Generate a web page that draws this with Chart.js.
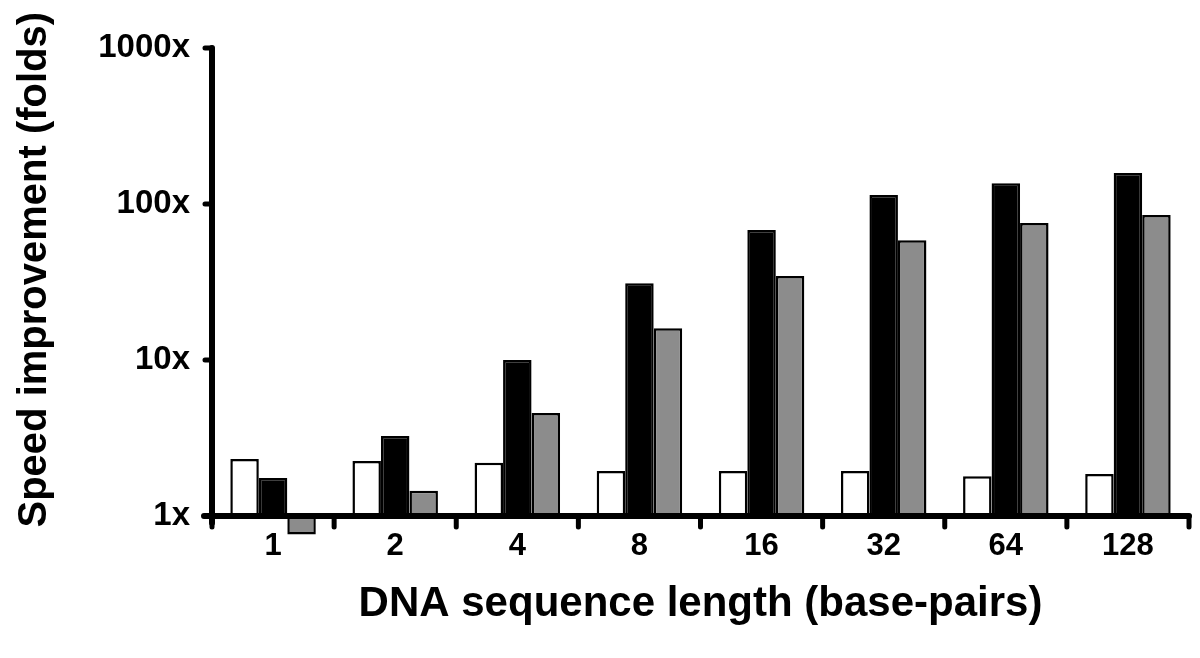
<!DOCTYPE html>
<html>
<head>
<meta charset="utf-8">
<script src="https://cdn.jsdelivr.net/npm/chart.js@4"></script>
<style>
  html, body { margin: 0; padding: 0; background: #fff; }
  canvas { display: block; }
</style>
</head>
<body>
<canvas id="chart" width="1200" height="658"></canvas>
<script>
const lengths = ['1', '2', '4', '8', '16', '32', '64', '128'];
const whiteSeries = [2.32, 2.25, 2.19, 1.94, 1.94, 1.94, 1.80, 1.86];
const blackSeries = [1.75, 3.26, 10.0, 31, 68, 114, 136, 158];
const graySeries = [0.76, 1.45, 4.57, 16, 34.5, 58.6, 75.5, 85];
const yTicks = [1, 10, 100, 1000];

const FONT = "'Liberation Sans', Arial, sans-serif";

// bars start at 1x, so the one below 1 hangs under the axis
function fromOne(arr) {
    return arr.map(v => [1, v]);
}

// axis lines with rounded tick marks, like the original figure
const axisPlugin = {
    id: 'axisPlugin',
    afterDatasetsDraw(chart) {
        const ctx = chart.ctx;
        const x = chart.scales.x;
        const y = chart.scales.y;
        const area = chart.chartArea;
        const base = y.getPixelForValue(1);
        const step = x.getPixelForValue(1) - x.getPixelForValue(0);
        ctx.save();
        ctx.strokeStyle = '#000';
        ctx.lineCap = 'round';

        ctx.lineWidth = 6;
        ctx.beginPath();
        ctx.moveTo(area.left - 8, base);
        ctx.lineTo(area.right, base);
        ctx.moveTo(area.left, y.getPixelForValue(1000));
        ctx.lineTo(area.left, base + 7);
        ctx.stroke();

        ctx.lineWidth = 5;
        ctx.beginPath();
        for (let i = 0; i <= lengths.length; i++) {
            const px = x.getPixelForValue(0) - step / 2 + i * step;
            ctx.moveTo(px, base);
            ctx.lineTo(px, base + 11);
        }
        yTicks.forEach(v => {
            const py = y.getPixelForValue(v);
            ctx.moveTo(area.left - 7, py);
            ctx.lineTo(area.left, py);
        });
        ctx.stroke();
        ctx.restore();
    }
};

const ctx = document.querySelector('#chart').getContext('2d');
const chart = new Chart(ctx, {
    type: 'bar',
    data: {
        labels: lengths,
        datasets: [{
            label: 'white',
            data: fromOne(whiteSeries),
            backgroundColor: '#ffffff'
        }, {
            label: 'black',
            data: fromOne(blackSeries),
            backgroundColor: '#000000'
        }, {
            label: 'gray',
            data: fromOne(graySeries),
            backgroundColor: '#8c8c8c'
        }]
    },
    options: {
        responsive: false,
        animation: false,
        devicePixelRatio: 1,
        datasets: {
            bar: {
                borderColor: '#000',
                borderWidth: 2.5,
                borderSkipped: false,
                barPercentage: 1.0,
                categoryPercentage: 0.7,
                clip: false
            }
        },
        layout: {
            padding: { top: 10, right: 11, bottom: 0, left: 0 }
        },
        scales: {
            x: {
                grid: { display: false, drawTicks: false },
                border: { display: false },
                ticks: {
                    color: '#000',
                    padding: -2,
                    font: { family: FONT, size: 31, weight: 'bold' }
                },
                title: {
                    display: true,
                    text: 'DNA sequence length (base-pairs)',
                    color: '#000',
                    padding: { top: 0, bottom: 28 },
                    font: { family: FONT, size: 42, weight: 'bold' }
                },
                afterFit(scale) {
                    scale.height = 128.6;
                }
            },
            y: {
                type: 'logarithmic',
                min: 0.82,
                max: 1752,
                grid: { display: false, drawTicks: false },
                border: { display: false },
                afterBuildTicks(scale) {
                    scale.ticks = yTicks.map(v => ({ value: v }));
                },
                ticks: {
                    color: '#000',
                    padding: 22,
                    font: { family: FONT, size: 33, weight: 'bold' },
                    callback: v => v + 'x'
                },
                title: {
                    display: true,
                    text: 'Speed improvement (folds)',
                    color: '#000',
                    padding: { top: 11, bottom: 0 },
                    font: { family: FONT, size: 40, weight: 'bold' }
                },
                afterFit(scale) {
                    scale.width = 212;
                    scale.paddingTop = 0;
                    scale.paddingBottom = 0;
                }
            }
        },
        plugins: {
            legend: { display: false },
            tooltip: { enabled: false }
        }
    },
    plugins: [axisPlugin]
});
</script>
</body>
</html>
